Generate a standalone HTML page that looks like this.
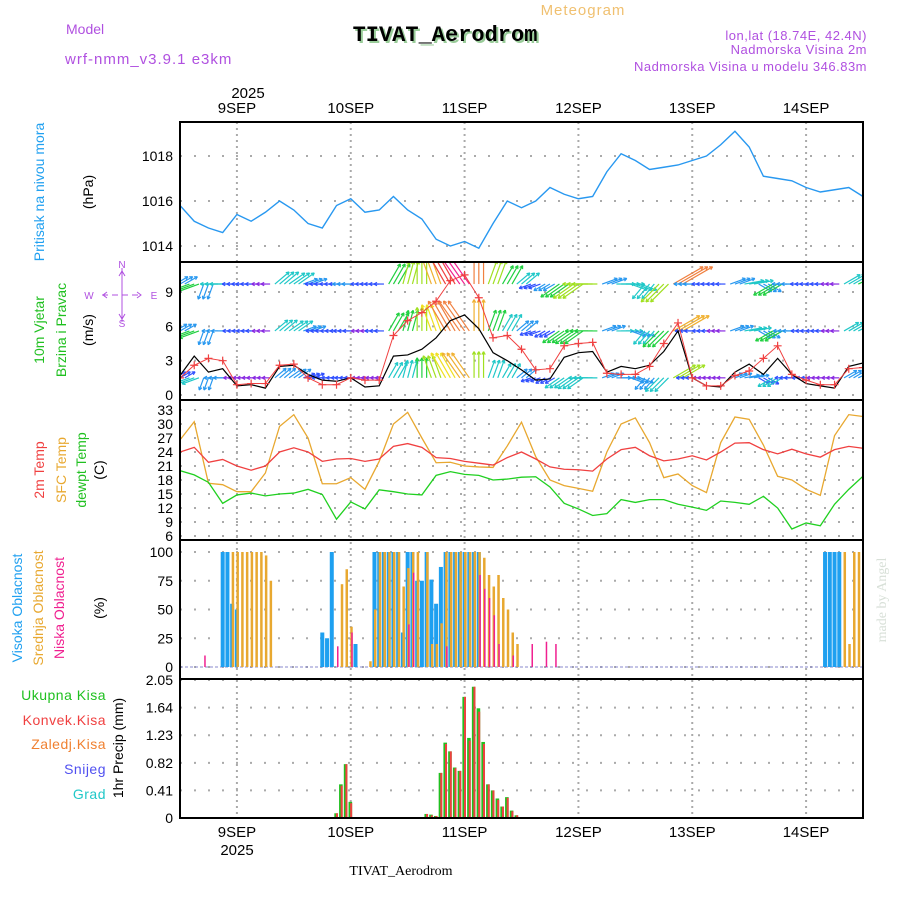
<!DOCTYPE html>
<html><head><meta charset="utf-8"><style>
html,body{margin:0;padding:0;background:#fff;}
svg{display:block;font-family:"Liberation Sans",sans-serif;}
</style></head><body>
<svg id="chart" width="900" height="900" viewBox="0 0 900 900" xmlns="http://www.w3.org/2000/svg">
<rect width="900" height="900" fill="#fff"/>
<text x="66" y="34" font-size="14" fill="#b050e0">Model</text>
<text x="65" y="64" font-size="15" fill="#b050e0" letter-spacing="1">wrf-nmm_v3.9.1 e3km</text>
<text x="583" y="15" font-size="15" fill="#f0c070" text-anchor="middle" letter-spacing="1">Meteogram</text>
<text x="447" y="43" font-size="22" font-weight="bold" fill="#9c9" text-anchor="middle" font-family="Liberation Mono,monospace">TIVAT_Aerodrom</text>
<text x="445" y="41" font-size="22" font-weight="bold" fill="#000" text-anchor="middle" font-family="Liberation Mono,monospace">TIVAT_Aerodrom</text>
<text x="867" y="40" font-size="13" fill="#b050e0" text-anchor="end" letter-spacing="0.5">lon,lat (18.74E, 42.4N)</text>
<text x="867" y="54" font-size="13" fill="#b050e0" text-anchor="end" letter-spacing="0.5">Nadmorska Visina 2m</text>
<text x="867" y="71" font-size="13" fill="#b050e0" text-anchor="end" letter-spacing="0.5">Nadmorska Visina u modelu 346.83m</text>
<text x="248" y="98" font-size="15" fill="#000" text-anchor="middle">2025</text>
<text x="237" y="855" font-size="15" fill="#000" text-anchor="middle">2025</text>
<text x="401" y="875" font-size="14" fill="#000" text-anchor="middle" font-family="Liberation Serif,serif">TIVAT_Aerodrom</text>
<text transform="translate(886,600) rotate(-90)" font-size="14" fill="#d8e0d8" text-anchor="middle" font-family="Liberation Serif,serif">made by Angel</text>
<g font-size="14">
<text transform="translate(44,192) rotate(-90)" fill="#20a0f0" text-anchor="middle">Pritisak na nivou mora</text>
<text transform="translate(93,192) rotate(-90)" fill="#000" text-anchor="middle">(hPa)</text>
<text transform="translate(44,330) rotate(-90)" fill="#20c020" text-anchor="middle">10m Vjetar</text>
<text transform="translate(66,330) rotate(-90)" fill="#20c020" text-anchor="middle">Brzina i Pravac</text>
<text transform="translate(93,330) rotate(-90)" fill="#000" text-anchor="middle">(m/s)</text>
<text transform="translate(44,470) rotate(-90)" fill="#f04040" text-anchor="middle">2m Temp</text>
<text transform="translate(66,470) rotate(-90)" fill="#e8a830" text-anchor="middle">SFC Temp</text>
<text transform="translate(86,470) rotate(-90)" fill="#20c020" text-anchor="middle">dewpt Temp</text>
<text transform="translate(104,470) rotate(-90)" fill="#000" text-anchor="middle">(C)</text>
<text transform="translate(22,608) rotate(-90)" fill="#20a0f0" text-anchor="middle">Visoka Oblacnost</text>
<text transform="translate(43,608) rotate(-90)" fill="#e8a830" text-anchor="middle">Srednja Oblacnost</text>
<text transform="translate(64,608) rotate(-90)" fill="#f02090" text-anchor="middle">Niska Oblacnost</text>
<text transform="translate(104,608) rotate(-90)" fill="#000" text-anchor="middle">(%)</text>
<text x="106" y="700" fill="#20c020" text-anchor="end" letter-spacing="0.5">Ukupna Kisa</text>
<text x="106" y="725" fill="#f04040" text-anchor="end" letter-spacing="0.5">Konvek.Kisa</text>
<text x="106" y="749" fill="#f08030" text-anchor="end" letter-spacing="0.5">Zaledj.Kisa</text>
<text x="106" y="774" fill="#5050f0" text-anchor="end" letter-spacing="0.5">Snijeg</text>
<text x="106" y="799" fill="#20c8c8" text-anchor="end" letter-spacing="0.5">Grad</text>
<text transform="translate(123,748) rotate(-90)" fill="#000" text-anchor="middle">1hr Precip (mm)</text>
</g>
<g stroke="#b050e0" fill="none" stroke-width="1">
<line x1="122" y1="268" x2="122" y2="322"/><line x1="102" y1="295" x2="142" y2="295" stroke-dasharray="6,4"/>
<polyline points="119,276 122,271 125,276"/><polyline points="119,314 122,319 125,314"/>
<polyline points="107,292 103,295 107,298"/><polyline points="137,292 141,295 137,298"/>
</g>
<g font-size="10" fill="#b050e0" text-anchor="middle">
<text x="122" y="268">N</text>
<text x="122" y="327">S</text>
<text x="89" y="299">W</text>
<text x="154" y="299">E</text>
</g>
<g id="plot"></g>
</svg>
<script>
const hours3 = [0,3,6,9,12,15,18,21,24,27,30,33,36,39,42,45,48,51,54,57,60,63,66,69,72,75,78,81,84,87,90,93,96,99,102,105,108,111,114,117,120,123,126,129,132,135,138,141,144];
const dayLabels = ["9SEP","10SEP","11SEP","12SEP","13SEP","14SEP"];
const dayHours = [12,36,60,84,108,132];
const pressure = [1015.8,1015.1,1014.8,1014.6,1015.4,1015.1,1015.5,1016.0,1015.6,1015.0,1014.8,1015.8,1016.1,1015.5,1015.6,1016.2,1015.6,1015.2,1014.3,1014.0,1014.2,1013.9,1015.0,1016.0,1015.7,1016.0,1016.6,1016.3,1016.1,1016.2,1017.3,1018.1,1017.8,1017.4,1017.5,1017.6,1017.8,1018.0,1018.5,1019.1,1018.4,1017.1,1017.0,1016.9,1016.6,1016.4,1016.5,1016.6,1016.2];
const pressureTicks = [1014,1016,1018];
const windSpeed = [1.7,3.4,2.0,2.3,0.8,0.9,0.6,2.5,2.6,1.8,1.3,1.2,1.5,0.7,0.8,3.4,3.5,4.0,5.0,6.5,7.0,5.8,3.7,3.0,2.2,1.3,1.4,3.3,3.7,3.8,2.0,2.5,2.3,2.6,3.8,5.6,1.5,0.8,0.7,2.0,2.7,1.8,3.2,1.8,1.0,0.8,0.6,2.5,2.8];
const windGust = [1.5,2.6,3.2,3.0,0.9,1.0,1.0,2.6,2.7,1.5,0.9,0.9,1.5,1.3,1.3,5.2,6.5,7.2,8.2,10.0,10.5,8.5,5.0,5.2,4.0,2.2,2.3,4.3,4.5,4.6,1.9,1.8,1.8,2.5,4.5,6.3,1.5,0.8,0.8,1.7,2.1,3.2,4.3,1.8,1.3,0.9,0.9,2.3,2.4];
const windDirTo = [30,200,250,180,180,180,180,40,35,20,180,180,180,180,180,60,75,90,110,120,125,90,70,60,40,200,210,215,215,180,20,0,-20,230,225,30,180,180,180,20,10,-30,210,180,180,180,180,30,25];
const windTicks = [0,3,6,9];
const temp2m = [24.0,25.0,21.8,22.4,21.0,20.1,21.0,24.0,24.9,24.0,22.0,22.5,22.6,22.0,22.5,25.2,25.8,25.0,22.8,22.6,22.0,21.6,21.2,22.8,24.0,22.5,20.8,20.3,20.2,19.9,22.5,24.5,25.0,23.2,22.1,22.5,23.2,22.3,24.0,25.9,26.0,24.5,23.6,24.6,23.6,22.9,24.5,25.2,24.8];
const tempSfc = [26.6,30.5,17.3,17.0,15.5,15.5,19.5,29.5,32.0,27.0,17.2,17.2,18.5,16.0,22.0,30.0,32.5,27.0,21.7,21.8,21.0,20.8,20.7,25.3,30.4,23.0,18.0,16.8,16.2,15.6,24.0,30.0,31.3,26.0,18.5,19.3,16.8,15.3,26.0,31.5,31.0,25.5,18.8,18.0,16.0,14.7,27.5,32.0,31.6];
const tempDew = [20.0,19.1,17.5,13.0,14.8,15.2,14.6,15.0,15.2,16.0,14.9,9.6,13.3,11.8,15.9,15.5,15.0,14.8,19.0,19.8,19.2,19.0,18.0,18.2,18.6,18.7,16.5,13.0,11.8,10.4,10.8,13.8,13.2,13.8,13.8,12.8,12.2,11.5,13.5,13.2,12.8,14.5,12.0,7.5,8.8,8.2,12.8,16.0,18.8];
const tempTicks = [6,9,12,15,18,21,24,27,30,33];
const highHours = [9,10,11,12,30,31,32,37,41,42,43,44,45,46,47,48,49,50,51,52,53,54,55,56,57,58,59,60,61,62,63,136,137,138,139];
const highVals = [100,100,55,50,30,25,100,20,100,100,100,100,100,100,30,100,100,75,75,100,76,55,87,100,100,100,100,100,100,100,100,100,100,100,100];
const midHours = [11,12,13,14,15,16,17,18,19,34,35,36,40,41,42,43,44,45,46,47,48,49,50,52,53,54,55,56,57,58,59,60,61,62,63,64,65,66,67,68,69,70,71,140,141,142,143];
const midVals = [100,100,100,100,100,100,100,97,75,72,85,35,5,50,100,100,100,100,100,70,86,100,100,100,20,20,38,100,100,100,100,100,100,100,100,95,80,70,80,60,50,30,20,100,20,100,100];
const lowHours = [5,33,36,48,49,56,63,64,65,66,67,70,74,77,79];
const lowVals = [10,18,30,37,82,18,80,68,60,45,20,10,20,22,20];
const cloudTicks = [0,25,50,75,100];
const precipHours = [33,34,35,36,52,53,54,55,56,57,58,59,60,61,62,63,64,65,66,67,68,69,70,71];
const precipTotal = [0.07,0.50,0.80,0.24,0.06,0.05,0.03,0.67,1.12,0.99,0.75,0.70,1.80,1.19,1.95,1.63,1.13,0.50,0.41,0.29,0.17,0.31,0.11,0.04];
const precipConv = [0.07,0.48,0.80,0.22,0.06,0.04,0.03,0.67,1.10,0.99,0.74,0.70,1.80,1.15,1.95,1.58,1.10,0.50,0.41,0.27,0.17,0.30,0.10,0.04];
const precipTicks = ["0","0.41","0.82","1.23","1.64","2.05"];

const NS="http://www.w3.org/2000/svg";
const plot=document.getElementById('plot');
const X0=180,X1=863;
const xH=h=>X0+h*(X1-X0)/144;
const yP=p=>156+(1018-p)*22.5;
const yW=v=>395-v*11.44;
const yT=t=>410+(33-t)*4.667;
const yC=c=>667-c*1.15;
const yR=r=>818-r*67.3;
const panels=[[122,262],[262,400],[400,540],[540,679],[679,818]];
function mk(tag,attrs,parent){const e=document.createElementNS(NS,tag);for(const k in attrs)e.setAttribute(k,attrs[k]);(parent||plot).appendChild(e);return e;}

const defs=mk('defs',{});
panels.forEach((p,i)=>{const c=mk('clipPath',{id:'clip'+i},defs);mk('rect',{x:X0,y:p[0],width:X1-X0,height:p[1]-p[0]},c);});

function hgrid(vals,yf,name){vals.forEach(v=>{const l=mk('line',{x1:X0,x2:X1,y1:yf(v),y2:yf(v),stroke:'#aaa','stroke-width':2,'stroke-dasharray':'2,12'});

});}
function ylabels(vals,yf,name,labels){vals.forEach((v,i)=>{const t=mk('text',{x:173,y:yf(v)+5,'font-size':14,'text-anchor':'end',fill:'#000'});t.textContent=labels?labels[i]:v;

});}
hgrid(pressureTicks,yP,'pressure');ylabels(pressureTicks,yP,'pressure');
hgrid(windTicks,yW,'wind');ylabels(windTicks,yW,'wind');
hgrid(tempTicks,yT,'temp');ylabels(tempTicks,yT,'temp');
hgrid(cloudTicks,yC,'cloud');ylabels(cloudTicks,yC,'cloud');
const pnum=precipTicks.map(Number);
hgrid(pnum,yR,'precip');ylabels(pnum,yR,'precip',precipTicks);
dayHours.forEach((h,i)=>{
 const l=mk('line',{x1:xH(h),x2:xH(h),y1:122,y2:818,stroke:'#aaa','stroke-width':2,'stroke-dasharray':'2,4'});
 
 
 const t=mk('text',{x:xH(h),y:113,'font-size':15,'text-anchor':'middle',fill:'#000'});t.textContent=dayLabels[i];
 
 
 const b=mk('text',{x:xH(h),y:837,'font-size':15,'text-anchor':'middle',fill:'#000'});b.textContent=dayLabels[i];
 
 
});

function line(vals,yf,color,clip,name,w){const pts=vals.map((v,i)=>xH(hours3[i])+','+yf(v)).join(' ');
 const e=mk('polyline',{points:pts,fill:'none',stroke:color,'stroke-width':w||1.3,'clip-path':'url(#clip'+clip+')'});
 
 return e;}

line(pressure,yP,'#2898f0',0,'pressure-line',1.4);

function spdColor(s){const c=['#8a2be2','#3050ff','#2898f0','#20c8c8','#20d040','#a0e020','#f0e020','#f0b030','#f08040','#f04040','#f02090'];return c[Math.max(0,Math.min(10,Math.floor(s)))];}
const rowBase=[1.5,5.6,9.7];
const rowFac=[1.0,1.25,1.45];
const wg=mk('g',{'clip-path':'url(#clip1)'});
rowBase.forEach((rb,k)=>{
 hours3.forEach((h,i)=>{
  const s=windSpeed[i]*rowFac[k];
  const a=windDirTo[i]*Math.PI/180;
  const L=6+s*3.5;
  const col=spdColor(s);
  [-1,0,1].forEach(off=>{
   const x0=xH(h+off),y0=yW(rb);
   const x1=x0+L*Math.cos(a),y1=y0-L*Math.sin(a);
   const g=mk('g',{stroke:col,'stroke-width':1.2,fill:'none'},wg);
   
   
   mk('line',{x1:x0,y1:y0,x2:x1,y2:y1},g);
   const hl=3.5;
   [a+Math.PI-0.5,a+Math.PI+0.5].forEach(b=>mk('line',{x1:x1,y1:y1,x2:x1+hl*Math.cos(b),y2:y1-hl*Math.sin(b)},g));
  });
 });
});
line(windSpeed,yW,'#000',1,'wind-speed-line',1.2);
line(windGust,yW,'#f04040',1,'wind-gust-line',1);
hours3.forEach((h,i)=>{const x=xH(h),y=yW(windGust[i]);
 const p=mk('path',{d:`M${x-4},${y}h8M${x},${y-4}v8`,stroke:'#f04040','stroke-width':1.2,'clip-path':'url(#clip1)'});
 
 });

line(tempSfc,yT,'#e8a830',2,'sfc-temp-line',1.3);
line(temp2m,yT,'#f04040',2,'temp-2m-line',1.3);
line(tempDew,yT,'#20d020',2,'dewpt-line',1.3);

const base=mk('line',{x1:X0,x2:X1,y1:yC(0),y2:yC(0),stroke:'#8888cc','stroke-width':1,'stroke-dasharray':'3,2'});


highHours.forEach((h,i)=>{const r=mk('rect',{x:xH(h)-2,y:yC(highVals[i]),width:4,height:yC(0)-yC(highVals[i]),fill:'#1ea0f0'});
 
 });
midHours.forEach((h,i)=>{const r=mk('rect',{x:xH(h)-0.5,y:yC(midVals[i]),width:2.5,height:yC(0)-yC(midVals[i]),fill:'#e8a830'});
 
 });
lowHours.forEach((h,i)=>{const r=mk('rect',{x:xH(h)+0.5,y:yC(lowVals[i]),width:1.5,height:yC(0)-yC(lowVals[i]),fill:'#f02090'});
 
 });

precipHours.forEach((h,i)=>{
 const g=mk('rect',{x:xH(h)-2.2,y:yR(precipTotal[i]),width:3.6,height:yR(0)-yR(precipTotal[i]),fill:'#20c020'});
 
 
 const r=mk('rect',{x:xH(h)-0.6,y:yR(precipConv[i]),width:2,height:yR(0)-yR(precipConv[i]),fill:'#f04040'});
 
 
});
const pb=mk('line',{x1:X0,x2:X1,y1:yR(0),y2:yR(0),stroke:'#000','stroke-width':1,'stroke-dasharray':'4,2'});



panels.forEach((p,i)=>{const r=mk('rect',{x:X0,y:p[0],width:X1-X0,height:p[1]-p[0],fill:'none',stroke:'#000','stroke-width':2});
 
 });
</script>
</body></html>
